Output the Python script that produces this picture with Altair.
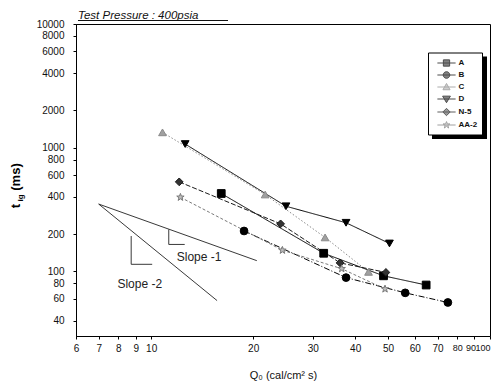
import altair as alt
import pandas as pd

# ---------------- data ----------------
series_names = ["A", "B", "C", "D", "N-5", "AA-2"]

A_q = [16.1, 32.3, 48.5, 64.8]
A_t = [426, 140, 92, 77.5]
B_q = [18.8, 37.6, 56.2, 75.1]
B_t = [212, 89, 67, 56]
C_q = [10.8, 21.7, 32.6, 43.8]
C_t = [1330, 418, 188, 99]
D_q = [12.6, 25.0, 37.6, 50.5]
D_t = [1070, 336, 247, 168]
N5_q = [12.1, 24.1, 36.1, 49.3]
N5_t = [529, 242, 117, 98]
AA2_q = [12.2, 24.4, 36.5, 49.0]
AA2_t = [397, 148, 105, 72]

# reference slope guide lines
slope1_q = [7.0, 20.5]
slope1_t = [350, 122]
slope2_q = [7.0, 15.65]
slope2_t = [350, 58]
# small "L" slope markers
L1_q = [11.27, 11.27, 12.56]
L1_t = [218, 165, 165]
L2_q = [8.73, 8.73, 10.07]
L2_t = [193, 114, 114]
note_labels = ["Slope -1", "Slope -2"]
note_q = [11.9, 7.95]
note_t = [130, 79]

x_ticks = [6, 7, 8, 9, 10, 20, 30, 40, 50, 60, 70, 80, 90, 100]
y_ticks = [40, 60, 80, 100, 200, 400, 600, 800, 1000, 2000, 4000, 6000, 8000, 10000]

colors = ["#000000", "#000000", "#8a8a8a", "#000000", "#1a1a1a", "#7a7a7a"]
fills = ["#000000", "#000000", "#a0a0a0", "#000000", "#333333", "#bdbdbd"]
dashes = [[1, 0], [6, 2, 1, 2], [1.5, 2], [1, 0], [5, 2], [3, 2]]
star = ("M0,-1L0.24,-0.33L0.95,-0.31L0.38,0.12L0.59,0.81L0,0.4L-0.59,0.81"
        "L-0.38,0.12L-0.95,-0.31L-0.24,-0.33Z")
plot_shapes = ["square", "circle", "triangle-up", "triangle-down", "diamond", star]
legend_shapes = [
    "M-1.6,0H1.6M-0.55,-0.55H0.55V0.55H-0.55Z",
    "M-1.6,0H1.6M-0.58,0A0.58,0.58 0 1,0 0.58,0A0.58,0.58 0 1,0 -0.58,0Z",
    "M-1.6,0H1.6M0,-0.62L0.62,0.48H-0.62Z",
    "M-1.6,0H1.6M-0.68,-0.5H0.68L0,0.65Z",
    "M-1.6,0H1.6M0,-0.64L0.64,0L0,0.64L-0.64,0Z",
    "M-1.6,0H1.6M0,-0.6L0.16,-0.19L0.6,-0.19L0.24,0.08L0.38,0.53L0,0.24L-0.38,0.53L-0.24,0.08L-0.6,-0.19L-0.16,-0.19Z",
]

rows = []
for name, qs, ts in zip(series_names,
                        [A_q, B_q, C_q, D_q, N5_q, AA2_q],
                        [A_t, B_t, C_t, D_t, N5_t, AA2_t]):
    for i, (q, t) in enumerate(zip(qs, ts)):
        rows.append({"series": name, "q": q, "t": t, "i": i})
df = pd.DataFrame(rows)

guide_rows = []
for g, qs, ts in [("s1", slope1_q, slope1_t), ("s2", slope2_q, slope2_t),
                  ("l1", L1_q, L1_t), ("l2", L2_q, L2_t)]:
    for i, (q, t) in enumerate(zip(qs, ts)):
        guide_rows.append({"g": g, "q": q, "t": t, "i": i})
guides = pd.DataFrame(guide_rows)
notes = pd.DataFrame({"label": note_labels, "q": note_q, "t": note_t})

# legend-only rows, placed outside the domain and clipped away
legend_df = pd.DataFrame({"series": series_names, "q": [1.0] * 6, "t": [1.0] * 6})
one = pd.DataFrame({"k": [0]})

FONT = "Liberation Sans"
xs = alt.Scale(type="log", domain=[6, 100], nice=False, zero=False)
ys = alt.Scale(type="log", domain=[30, 10000], nice=False, zero=False)

x_axis = alt.Axis(values=x_ticks, format="d", labelOverlap=False, labelFlush=False,
                  grid=False, tickSize=3, labelPadding=4,
                  labelFontSize=alt.ExprRef("datum.value >= 80 ? 9 : 10"),
                  labelAlign=alt.ExprRef("datum.value == 100 ? 'right' : 'center'"),
                  labelOffset=alt.ExprRef("datum.value == 90 ? -4 : 0"),
                  title="Q₀ (cal/cm² s)", titleFontSize=11, titleFontWeight="normal",
                  titlePadding=16, domainColor="black", tickColor="black")
y_axis = alt.Axis(values=y_ticks, format="d", labelOverlap=False, labelFlush=False,
                  grid=False, tickSize=3, labelPadding=9, labelFontSize=10,
                  title=None, domainColor="black", tickColor="black")

X = alt.X("q:Q", scale=xs, axis=x_axis)
Y = alt.Y("t:Q", scale=ys, axis=y_axis)

lines = alt.Chart(df).mark_line(strokeWidth=1).encode(
    x=X, y=Y, detail="series:N", order="i:Q",
    stroke=alt.Stroke("series:N", scale=alt.Scale(domain=series_names, range=colors), legend=None),
    strokeDash=alt.StrokeDash("series:N", scale=alt.Scale(domain=series_names, range=dashes), legend=None),
)

points = alt.Chart(df).mark_point(filled=True, size=60, strokeWidth=1, opacity=1).encode(
    x=X, y=Y,
    shape=alt.Shape("series:N", scale=alt.Scale(domain=series_names, range=plot_shapes), legend=None),
    fill=alt.Fill("series:N", scale=alt.Scale(domain=series_names, range=fills), legend=None),
    stroke=alt.Stroke("series:N", scale=alt.Scale(domain=series_names, range=colors), legend=None),
)

legend_layer = alt.Chart(legend_df).mark_point(filled=True, size=130, clip=True).encode(
    x=X, y=Y,
    shape=alt.Shape("series:N", scale=alt.Scale(domain=series_names, range=legend_shapes),
                    legend=alt.Legend(title=None)),
    fill=alt.Fill("series:N", scale=alt.Scale(domain=series_names, range=fills),
                  legend=alt.Legend(title=None)),
    stroke=alt.Stroke("series:N", scale=alt.Scale(domain=series_names, range=colors),
                      legend=alt.Legend(title=None)),
)

guide_lines = alt.Chart(guides).mark_line(strokeWidth=0.9, color="#222222").encode(
    x=X, y=Y, detail="g:N", order="i:Q")

note_text = alt.Chart(notes).mark_text(align="left", baseline="middle", fontSize=12,
                                       font=FONT, color="#222222").encode(
    x=X, y=Y, text="label:N")

# legend shadow
shadow = alt.Chart(one).mark_rect(color="black").encode(
    x=alt.value(356), x2=alt.value(411), y=alt.value(32.5), y2=alt.value(115))

title_text = alt.Chart(one).mark_text(
    text="Test Pressure : 400psia", align="left", baseline="alphabetic",
    fontSize=11.5, fontStyle="italic", fontWeight="normal", font=FONT, color="#111111").encode(
    x=alt.value(2), y=alt.value(-5.5))
title_rule = alt.Chart(one).mark_rule(color="#111111", strokeWidth=1).encode(
    x=alt.value(2), x2=alt.value(152), y=alt.value(-3.5))

yt_t = alt.Chart(one).mark_text(text="t", angle=270, fontSize=13, fontWeight="bold",
                                font=FONT, align="center", baseline="middle").encode(
    x=alt.value(-60), y=alt.value(182))
yt_ig = alt.Chart(one).mark_text(text="ig", angle=270, fontSize=8, fontWeight="bold",
                                 font=FONT, align="center", baseline="middle").encode(
    x=alt.value(-55), y=alt.value(174))
yt_ms = alt.Chart(one).mark_text(text="(ms)", angle=270, fontSize=13, fontWeight="bold",
                                 font=FONT, align="center", baseline="middle").encode(
    x=alt.value(-60), y=alt.value(153))

chart = alt.layer(
    shadow, guide_lines, note_text, lines, points, legend_layer,
    title_text, title_rule, yt_t, yt_ig, yt_ms
).resolve_scale(
    shape="independent", fill="independent", stroke="independent", strokeDash="independent"
).properties(
    width=414, height=312,
    autosize=alt.AutoSizeParams(type="none"),
    padding={"left": 68, "top": 16, "right": 1, "bottom": 45},
).configure_view(
    stroke="black", strokeWidth=1
).configure_axis(
    labelFont=FONT, titleFont=FONT, labelColor="#111111", titleColor="#111111"
).configure_legend(
    orient="none", legendX=352, legendY=28.5, fillColor="white", strokeColor="black",
    padding=4, labelFont=FONT, labelFontSize=8, labelFontWeight="bold", labelColor="#111111",
    symbolSize=130, symbolStrokeWidth=1, rowPadding=0, labelOffset=5.5, symbolOffset=8
)

chart.save("out.html", embed_options={"renderer": "svg", "actions": False})
